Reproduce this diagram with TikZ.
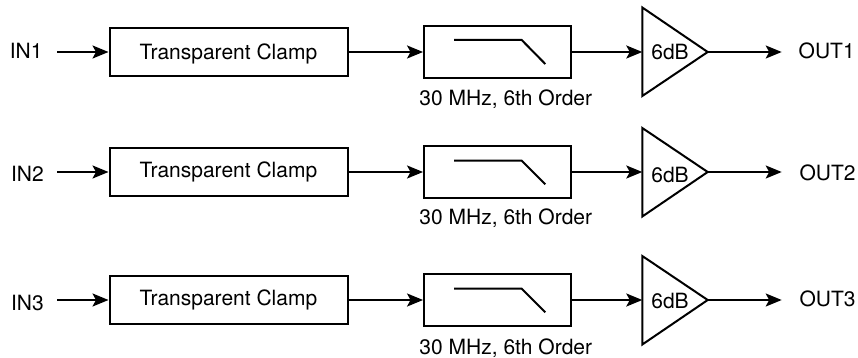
\documentclass[tikz,border=0pt]{standalone}
\usepackage{fontspec}
\setmainfont{TeX Gyre Heros}
\usetikzlibrary{arrows.meta}
\tikzset{
    txt/.style={font=\fontsize{21pt}{24pt}\selectfont, inner sep=0pt, anchor=base},
    clampbox/.style={font=\fontsize{21pt}{24pt}\selectfont, draw, line width=2pt, minimum width=238pt, minimum height=48pt, inner sep=0pt},
    filterbox/.style={draw, line width=2pt, minimum width=146.5pt, minimum height=51.5pt, inner sep=0pt},
    sig/.style={-{Stealth[length=16pt,width=13pt,inset=3.5pt]}, line width=2pt},
    shape line/.style={line width=2pt, line join=miter}
}
\begin{document}
\begin{tikzpicture}[x=1pt, y=-1pt]
    \useasboundingbox (0,0) rectangle (858,358);

    % Draw first channel
    \node[txt] (inA) at (26.2,58.3) {IN1};
    \coordinate (startA) at (57,52);
    \node[clampbox, text depth=0pt] (clampA) at (228.5,52) {Transparent Clamp};
    \node[filterbox] (filterA) at (497.3,52) {};
    \draw[shape line] (454,40) -- (521.7,40) -- (545.3,64);
    \node[txt] (noteA) at (505.8,106) {30 MHz, 6th Order};
    \draw[shape line] (642.3,7.5) -- (707.7,52) -- (642.3,96) -- cycle;
    \coordinate (ampinA) at (642.3,52);
    \coordinate (ampoutA) at (707.7,52);
    \node[txt] (gainA) at (670,60) {6dB};
    \coordinate (endA) at (781.7,52);
    \node[txt] (outA) at (826.7,58.3) {OUT1};
    \draw[sig] (startA) -- (clampA);
    \draw[sig] (clampA) -- (filterA);
    \draw[sig] (filterA) -- (ampinA);
    \draw[sig] (ampoutA) -- (endA);

    % Draw second channel
    \node[txt] (inB) at (27.5,181) {IN2};
    \coordinate (startB) at (57,172);
    \node[clampbox] (clampB) at (228.5,172) {Transparent Clamp};
    \node[filterbox] (filterB) at (497.3,172) {};
    \draw[shape line] (454,160.7) -- (521.7,160.7) -- (545.3,184.3);
    \node[txt] (noteB) at (505.8,224.3) {30 MHz, 6th Order};
    \draw[shape line] (642.3,128) -- (707.7,172) -- (642.3,216.5) -- cycle;
    \coordinate (ampinB) at (642.3,172);
    \coordinate (ampoutB) at (707.7,172);
    \node[txt] (gainB) at (670,182.7) {6dB};
    \coordinate (endB) at (781.7,172);
    \node[txt] (outB) at (827.5,180.7) {OUT2};
    \draw[sig] (startB) -- (clampB);
    \draw[sig] (clampB) -- (filterB);
    \draw[sig] (filterB) -- (ampinB);
    \draw[sig] (ampoutB) -- (endB);

    % Draw third channel
    \node[txt] (inC) at (27.5,310.7) {IN3};
    \coordinate (startC) at (57,300);
    \node[clampbox] (clampC) at (228.5,300) {Transparent Clamp};
    \node[filterbox] (filterC) at (497.3,300) {};
    \draw[shape line] (454,288.7) -- (521.7,288.7) -- (545.3,312.3);
    \node[txt] (noteC) at (505.8,354) {30 MHz, 6th Order};
    \draw[shape line] (642.3,256) -- (707.7,300) -- (642.3,344.5) -- cycle;
    \coordinate (ampinC) at (642.3,300);
    \coordinate (ampoutC) at (707.7,300);
    \node[txt] (gainC) at (670,308.7) {6dB};
    \coordinate (endC) at (781.7,300);
    \node[txt] (outC) at (827.5,306.3) {OUT3};
    \draw[sig] (startC) -- (clampC);
    \draw[sig] (clampC) -- (filterC);
    \draw[sig] (filterC) -- (ampinC);
    \draw[sig] (ampoutC) -- (endC);
\end{tikzpicture}
\end{document}
